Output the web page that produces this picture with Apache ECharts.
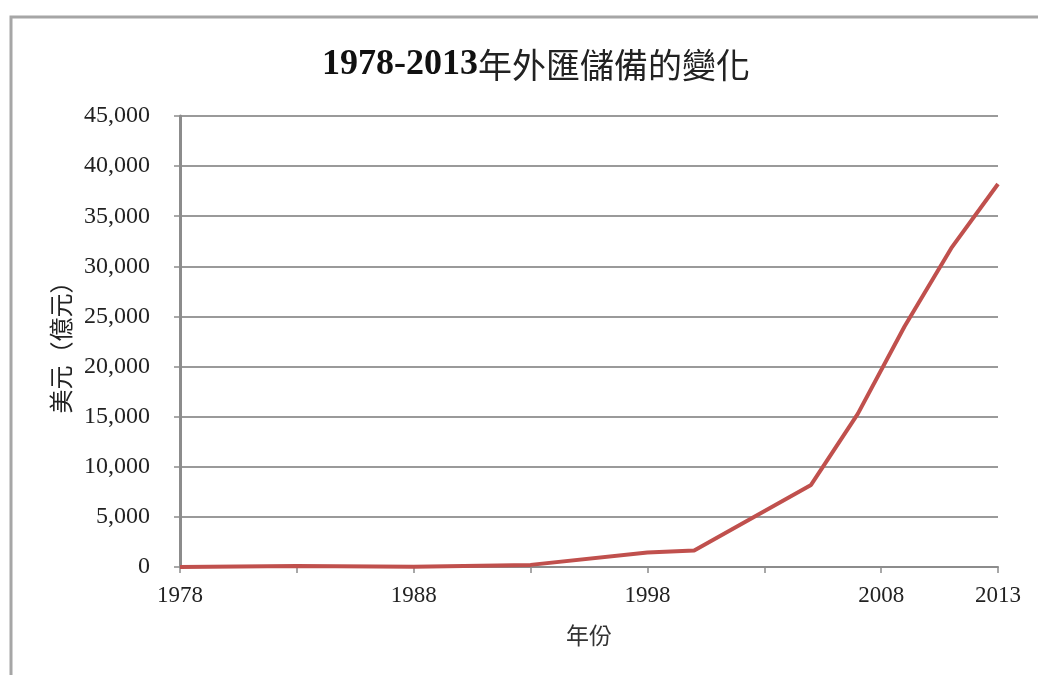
<!DOCTYPE html>
<html>
<head>
<meta charset="utf-8">
<script src="https://cdn.jsdelivr.net/npm/echarts@6/dist/echarts.min.js"></script>
<style>
html,body{margin:0;padding:0;background:#fff;}
#c{width:1038px;height:675px;}
</style>
</head>
<body>
<div id="c"></div>
<script>
// Data (USD 100 million)
var years = [1978, 1983, 1988, 1993, 1998, 2000, 2005, 2007, 2009, 2011, 2013];
var reserves = [2, 89, 34, 212, 1450, 1656, 8189, 15282, 23992, 31811, 38213];
var xTickValues = [1978, 1983, 1988, 1993, 1998, 2003, 2008, 2013];
var xLabelValues = [1978, 1988, 1998, 2008, 2013];
var titleYears = '1978-2013';
var titleText = '年外匯儲備的變化';
var xName = '年份';
var yName = '美元（億元）';

var seriesData = years.map(function (y, i) { return [y, reserves[i]]; });

var chart = echarts.init(document.getElementById('c'));
chart.setOption({
  animation: false,
  backgroundColor: '#fff',
  graphic: [{
    type: 'rect',
    shape: { x: 11, y: 17, width: 1100, height: 760 },
    style: { fill: 'none', stroke: '#a6a6a6', lineWidth: 3 },
    silent: true, z: -10
  }],
  title: {
    text: '{a|' + titleYears + '}{b|' + titleText + '}',
    left: 531, textAlign: 'center', top: 42,
    textStyle: {
      rich: {
        a: { fontFamily: '"Liberation Serif", serif', fontWeight: 'bold', fontSize: 36, color: '#111' },
        b: { fontFamily: '"Noto Sans CJK TC", sans-serif', fontWeight: 'normal', fontSize: 34, color: '#222' }
      }
    }
  },
  grid: { left: 180, right: 40, top: 116, bottom: 108 },
  xAxis: {
    type: 'value', min: 1978, max: 2013,
    name: xName, nameLocation: 'middle', nameGap: 57,
    nameTextStyle: { fontFamily: '"Noto Sans CJK TC", sans-serif', fontSize: 23, color: '#333' },
    axisLine: { show: true, lineStyle: { color: '#8c8c8c', width: 2 } },
    axisTick: { show: true, length: 6, customValues: xTickValues, lineStyle: { color: '#8c8c8c', width: 1.5 } },
    axisLabel: {
      customValues: xLabelValues, margin: 17,
      fontFamily: '"Liberation Serif", serif', fontSize: 23, color: '#222',
      formatter: function (v) { return String(v); }
    },
    splitLine: { show: false }
  },
  yAxis: {
    type: 'value', min: 0, max: 45000, interval: 5000,
    name: yName, nameLocation: 'middle', nameGap: 106, nameRotate: 90,
    nameTextStyle: { fontFamily: '"Noto Sans CJK TC", sans-serif', fontSize: 24, color: '#222' },
    axisLine: { show: true, lineStyle: { color: '#8c8c8c', width: 3 } },
    axisTick: { show: true, length: 6, lineStyle: { color: '#8c8c8c', width: 1.5 } },
    axisLabel: {
      margin: 30,
      fontFamily: '"Liberation Serif", serif', fontSize: 24, color: '#222',
      formatter: function (v) { return v.toLocaleString('en-US'); }
    },
    splitLine: { show: true, lineStyle: { color: '#9a9a9a', width: 2 } }
  },
  series: [{
    type: 'line',
    data: seriesData,
    showSymbol: false,
    symbol: 'none',
    lineStyle: { color: '#c0504d', width: 4 },
    z: 5
  }]
});
</script>
</body>
</html>
